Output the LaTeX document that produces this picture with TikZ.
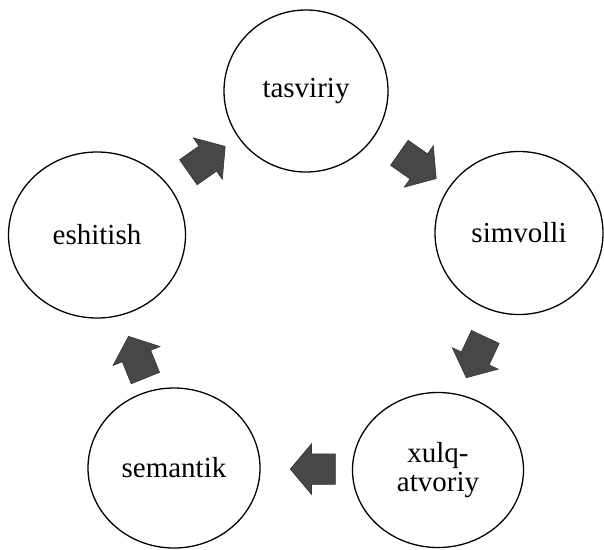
\documentclass[tikz,border=0pt]{standalone}
\usepackage{fontspec}
\setmainfont{Liberation Serif}
\usepackage{tikz}
\usetikzlibrary{shapes.geometric, shapes.arrows, calc}

\begin{document}
\begin{tikzpicture}[
    x=1pt, y=-1pt,
    stage/.style={ellipse, draw, line width=1.3pt, inner sep=0pt, align=center,
                  font=\fontsize{29}{29}\selectfont},
    flow/.style={single arrow, fill=black!72, draw=black!80, line width=0.6pt,
                 minimum height=45pt, inner sep=0pt,
                 single arrow head extend=10pt, single arrow tip angle=100},
]
    \useasboundingbox (0,0) rectangle (604,549);

    % Stages
    \node[stage, minimum width=164pt, minimum height=162pt] (tasviriy) at (306,91) {tasviriy};
    \node[stage, minimum width=168pt, minimum height=163pt] (simvolli) at (519,233) {simvolli};
    \node[stage, minimum width=171pt, minimum height=155pt] (xulq) at (438,470) {xulq-\\atvoriy};
    \node[stage, minimum width=172pt, minimum height=160pt] (semantik) at (174,468) {semantik};
    \node[stage, minimum width=177pt, minimum height=166pt] (eshitish) at (97,235) {eshitish};

    % Arrows
    \node[flow, rotate=35] (f1) at ($(eshitish)!0.5!(tasviriy)$) {\rule{0pt}{30pt}};
    \node[flow, rotate=-35] (f2) at ($(tasviriy)!0.5!(simvolli)$) {\rule{0pt}{30pt}};
    \node[flow, rotate=-115] (f3) at ($(simvolli)!0.5!(xulq)$) {\rule{0pt}{30pt}};
    \node[flow, rotate=180] (f4) at ($(xulq)!0.45!(semantik)$) {\rule{0pt}{30pt}};
    \node[flow, rotate=112] (f5) at ($(semantik)!0.45!(eshitish)$) {\rule{0pt}{30pt}};
\end{tikzpicture}
\end{document}
